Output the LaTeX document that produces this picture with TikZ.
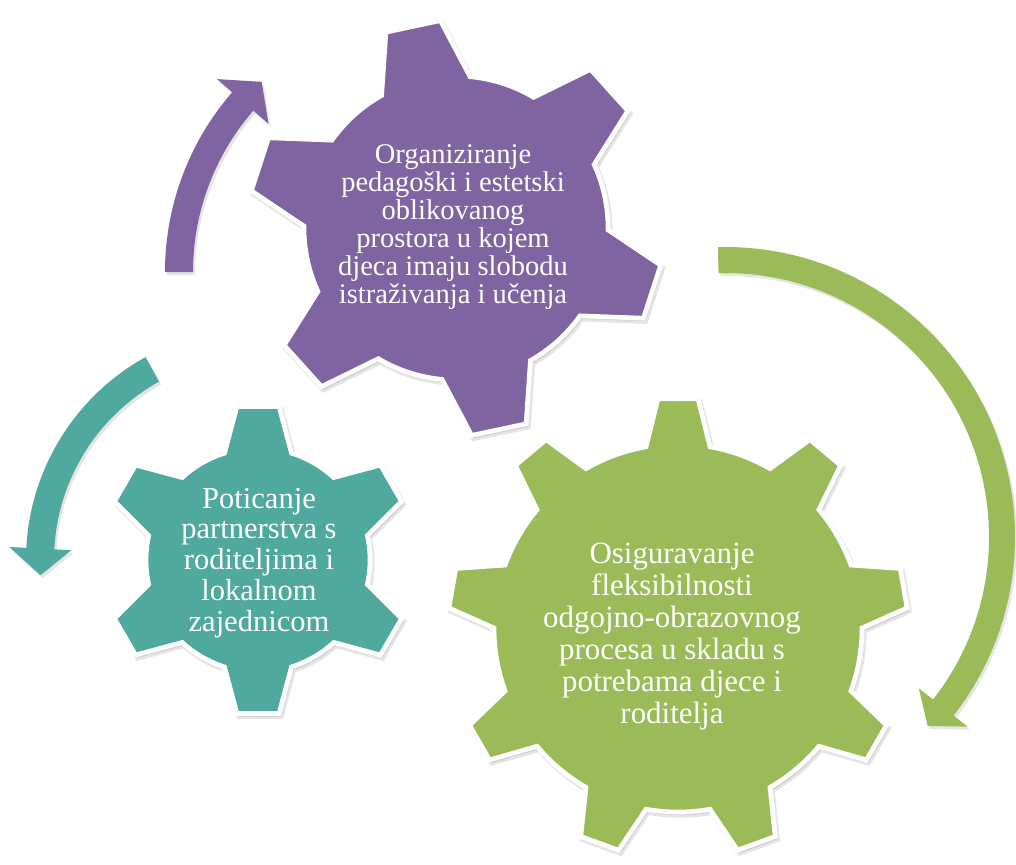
\documentclass[tikz,border=0pt]{standalone}
\usepackage{fontspec}
\setmainfont{Liberation Serif}
\usetikzlibrary{calc}
\definecolor{gpurple}{RGB}{128,100,162}
\definecolor{gteal}{RGB}{79,169,158}
\definecolor{ggreen}{RGB}{155,187,89}
\tikzset{
  gearbody/.style={fill=#1, draw=white, line width=3.5pt, line join=miter},
  gearshadow/.style={fill=black, draw=black, line width=4pt, opacity=0.10},
  arrowbody/.style={fill=#1},
  arrowshadow/.style={fill=black, opacity=0.10},
  gtext/.style={text=white, align=center, inner sep=0pt},
}
% #1 cx  #2 cy  #3 n  #4 n-1  #5 theta  #6 Ro  #7 Ri  #8 alpha  #9 beta
\newcommand\gearpath[9]{%
  ($(#1,#2)+(#5-#9:#7)$)
  \foreach \k [evaluate=\k as \a using #5+\k*360/#3,
               evaluate=\k as \sa using #5+\k*360/#3+#9,
               evaluate=\k as \ea using #5+(\k+1)*360/#3-#9] in {0,...,#4}
   { -- ($(#1,#2)+(\a-#8:#6)$) -- ($(#1,#2)+(\a+#8:#6)$) -- ($(#1,#2)+(\sa:#7)$)
     arc[start angle=\sa, end angle=\ea, radius=#7] }
  -- cycle}
% #1 cx #2 cy #3 r #4 w #5 h #6 tail angle #7 head base angle #8 tip angle
\newcommand\circarrowpath[8]{%
  ($(#1,#2)+(#6:#3+#4)$) arc[start angle=#6, end angle=#7, radius=#3+#4]
  -- ($(#1,#2)+(#7:#3+#5)$) -- ($(#1,#2)+(#8:#3)$) -- ($(#1,#2)+(#7:#3-#5)$)
  -- ($(#1,#2)+(#7:#3-#4)$) arc[start angle=#7, end angle=#6, radius=#3-#4] -- cycle}
\begin{document}
\begin{tikzpicture}[x=0.75pt,y=0.75pt]
\useasboundingbox (0,0) rectangle (1016,-864);
\fill[white] (0,0) rectangle (1016,-864);

% shadows
\begin{scope}[shift={(2,-3)}]
  \path[gearshadow] \gearpath{678}{-628}{9}{8}{90}{230}{184}{5}{10};
  \path[gearshadow] \gearpath{258}{-560}{6}{5}{90}{155}{112}{7.8}{17.4};
  \path[gearshadow] \gearpath{456}{-228}{6}{5}{102}{208}{152}{7.7}{17.3};
  \path[arrowshadow] \circarrowpath{439}{-272}{260}{14}{34}{180}{139}{133};
  \path[arrowshadow] \circarrowpath{258}{-560}{218}{14}{31}{119}{177}{184};
  \path[arrowshadow] \circarrowpath{725}{-537}{277}{13}{31}{91.4}{-38}{-43};
\end{scope}

% gears
\path[gearbody=ggreen] \gearpath{678}{-628}{9}{8}{90}{230}{184}{5}{10};
\path[gearbody=gteal] \gearpath{258}{-560}{6}{5}{90}{155}{112}{7.8}{17.4};
\path[gearbody=gpurple] \gearpath{456}{-228}{6}{5}{102}{208}{152}{7.7}{17.3};

% circular arrows
\path[arrowbody=gpurple] \circarrowpath{439}{-272}{260}{14}{34}{180}{139}{133};
\path[arrowbody=gteal] \circarrowpath{258}{-560}{218}{14}{31}{119}{177}{184};
\path[arrowbody=ggreen] \circarrowpath{725}{-537}{277}{13}{31}{91.4}{-38}{-43};

% texts
\node[gtext, font=\fontsize{21.4}{21}\selectfont] (purple) at (453,-227)
  {Organiziranje\\pedagoški i estetski\\oblikovanog\\prostora u kojem\\djeca imaju slobodu\\istraživanja i učenja};
\node[gtext, font=\fontsize{22.9}{23.2}\selectfont] (teal) at (259,-563)
  {Poticanje\\partnerstva s\\roditeljima i\\lokalnom\\zajednicom};
\node[gtext, font=\fontsize{23.2}{24}\selectfont] (green) at (672,-637)
  {Osiguravanje\\fleksibilnosti\\odgojno-obrazovnog\\procesa u skladu s\\potrebama djece i\\roditelja};
\end{tikzpicture}
\end{document}
